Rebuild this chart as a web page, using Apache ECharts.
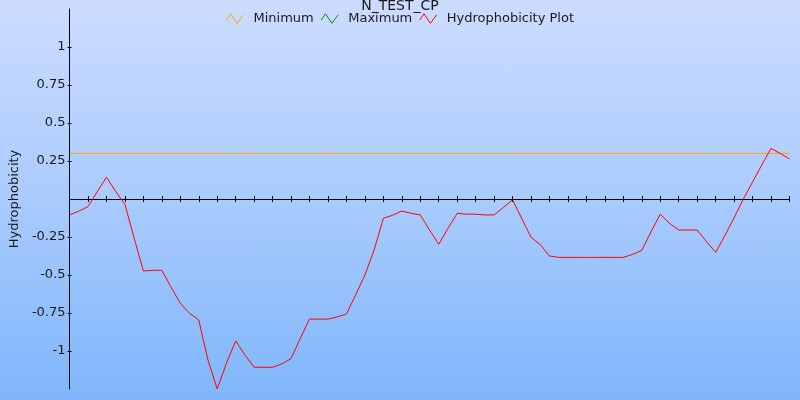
<!DOCTYPE html>
<html>
<head>
<meta charset="utf-8">
<script src="https://cdn.jsdelivr.net/npm/echarts@6/dist/echarts.min.js"></script>
<style>
html,body{margin:0;padding:0;}
#chart{width:800px;height:400px;background:linear-gradient(to bottom,#cddcff 0%,#a9cbfd 50%,#7fb6fb 100%);}
</style>
</head>
<body>
<div id="chart"></div>
<script>
var titleText = 'N_TEST_CP';
var seriesNames = ['Minimum', 'Maximum', 'Hydrophobicity Plot'];
var hydrophobicity = [
  -0.105, -0.08, -0.05, 0.048, 0.143, 0.05, -0.035, -0.257, -0.474, -0.469,
  -0.469, -0.58, -0.686, -0.752, -0.796, -1.06, -1.25, -1.08, -0.934, -1.026,
  -1.107, -1.107, -1.107, -1.085, -1.05, -0.917, -0.79, -0.79, -0.79, -0.776,
  -0.757, -0.63, -0.5, -0.335, -0.127, -0.107, -0.079, -0.094, -0.105, -0.204,
  -0.298, -0.193, -0.094, -0.1, -0.1, -0.105, -0.105, -0.055, -0.005, -0.13,
  -0.252, -0.30, -0.375, -0.384, -0.384, -0.384, -0.384, -0.384, -0.384, -0.384,
  -0.384, -0.364, -0.338, -0.215, -0.1, -0.16, -0.204, -0.204, -0.204, -0.28,
  -0.351, -0.241, -0.123, 0.0, 0.112, 0.224, 0.333, 0.3, 0.263
];
var minimumLevel = 0.3;
var maximumValues = [];
var yTickValues = [-1, -0.75, -0.5, -0.25, 0.25, 0.5, 0.75, 1];

var positions = hydrophobicity.map(function (_, i) { return String(i + 1); });
var minimumValues = positions.map(function () { return minimumLevel; });

var font = 'DejaVu Sans';
var zig = 'path://M0,6L4,0L10,9L16,1';
var chart = echarts.init(document.getElementById('chart'), null, {renderer: 'canvas'});
chart.setOption({
  backgroundColor: 'transparent',
  animation: false,
  title: {
    text: titleText, left: 'center', top: -1, padding: 0,
    textStyle: {fontFamily: font, fontSize: 14, fontWeight: 'normal', color: '#1a1a1a'}
  },
  legend: {
    top: 12, left: 'center', padding: 0, itemGap: 7, itemWidth: 17, itemHeight: 10,
    icon: zig,
    textStyle: {fontFamily: font, fontSize: 13, color: '#1a1a1a', padding: [0, 0, 0, 5]},
    data: [
      {name: seriesNames[0], icon: zig, itemStyle: {color: 'transparent', borderColor: '#ffa500', borderWidth: 1}},
      {name: seriesNames[1], icon: zig, itemStyle: {color: 'transparent', borderColor: '#009000', borderWidth: 1}},
      {name: seriesNames[2], icon: zig, itemStyle: {color: 'transparent', borderColor: '#ff0000', borderWidth: 1}}
    ]
  },
  grid: {left: 68, right: 10.5, top: 9, bottom: 11, containLabel: false},
  xAxis: [{
    type: 'category', data: positions, boundaryGap: false,
    axisLine: {onZero: true, onZeroAxisIndex: 0, lineStyle: {color: '#000', width: 1}},
    axisTick: {show: true, interval: 1, length: 3, lineStyle: {color: '#000'}},
    axisLabel: {show: false}, splitLine: {show: false}
  }, {
    type: 'category', data: positions, boundaryGap: false, position: 'bottom', silent: true,
    axisLine: {show: false, onZero: true, onZeroAxisIndex: 0},
    axisTick: {show: true, inside: true, interval: 1, length: 3, lineStyle: {color: '#000'}},
    axisLabel: {show: false}, splitLine: {show: false}
  }],
  yAxis: [{
    type: 'value', min: -1.25, max: 1.25, interval: 0.25,
    name: 'Hydrophobicity', nameLocation: 'middle', nameGap: 46,
    nameTextStyle: {fontFamily: font, fontSize: 13, color: '#1a1a1a'},
    axisLine: {show: true, lineStyle: {color: '#000', width: 1}},
    axisTick: {show: true, length: 2, customValues: yTickValues, lineStyle: {color: '#000'}},
    axisLabel: {margin: 4, fontFamily: font, fontSize: 13, color: '#1a1a1a', customValues: yTickValues},
    splitLine: {show: false}
  }, {
    type: 'value', min: -1.25, max: 1.25, interval: 0.25, position: 'left', silent: true,
    axisLine: {show: false},
    axisTick: {show: true, inside: true, length: 2, customValues: yTickValues, lineStyle: {color: '#000'}},
    axisLabel: {show: false}, splitLine: {show: false}
  }],
  series: [
    {name: seriesNames[0], type: 'line', data: minimumValues, showSymbol: false, symbol: 'none',
     lineStyle: {color: '#ffa500', width: 1}, itemStyle: {color: '#ffa500'}, z: 2},
    {name: seriesNames[1], type: 'line', data: maximumValues, showSymbol: false, symbol: 'none',
     lineStyle: {color: '#009000', width: 1}, itemStyle: {color: '#009000'}, z: 2},
    {name: seriesNames[2], type: 'line', data: hydrophobicity, showSymbol: false, symbol: 'none',
     lineStyle: {color: '#ff0000', width: 1}, itemStyle: {color: '#ff0000'}, z: 3}
  ]
});
</script>
</body>
</html>
